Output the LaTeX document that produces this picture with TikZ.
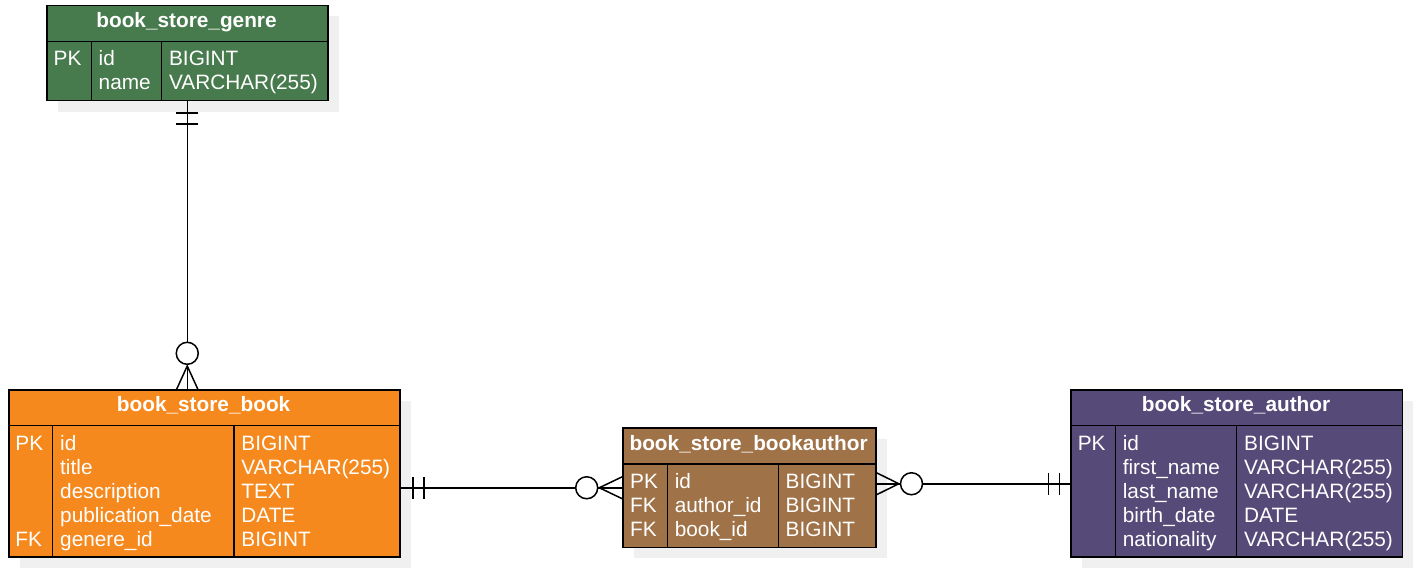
\documentclass[tikz,border=0pt]{standalone}
\usepackage{fontspec}
\setmainfont{Liberation Sans}
\usetikzlibrary{shadows,calc}
\definecolor{cgreen}{RGB}{71,122,77}
\definecolor{corange}{RGB}{246,137,30}
\definecolor{cbrown}{RGB}{160,114,72}
\definecolor{cpurple}{RGB}{86,74,120}
\definecolor{cshadow}{RGB}{240,240,240}
\tikzset{
  tbl/.style={draw=black, line width=1.5pt, anchor=north west, inner sep=0pt,
    drop shadow={shadow xshift=11pt, shadow yshift=-11pt, fill=cshadow, opacity=1}},
  ttl/.style={anchor=base, inner sep=0pt, text=white, font=\fontsize{20.8}{24}\selectfont\bfseries},
  cell/.style={anchor=base west, inner sep=0pt, text=white, font=\fontsize{20.8}{24}\selectfont},
  rule/.style={line width=1.5pt},
  conn/.style={line width=1.5pt, line cap=butt},
}
\begin{document}
\begin{tikzpicture}[x=1pt, y=-1pt]
\useasboundingbox (0,0) rectangle (1415,569);

% ---------- book_store_genre ----------
\node[tbl, fill=cgreen, minimum width=281pt, minimum height=95.3pt] (genre) at (46,4.7) {};
\draw[rule] (46,41.7) -- (327,41.7);
\draw[rule] (91.3,41.7) -- (91.3,100);
\draw[rule] (161.7,41.7) -- (161.7,100);
\node[ttl] (genre-title) at (186.5,27.4) {book\_store\_genre};
\foreach \k/\n/\t [count=\i] in {PK/id/BIGINT, {}/name/VARCHAR(255)}{
  \node[cell] (genre-k\i) at (53.5,{65.7+24*(\i-1)}) {\k};
  \node[cell] (genre-n\i) at (98.5,{65.7+24*(\i-1)}) {\n};
  \node[cell] (genre-t\i) at (168.9,{65.7+24*(\i-1)}) {\t};
}

% ---------- book_store_book ----------
\node[tbl, fill=corange, minimum width=391.3pt, minimum height=167pt] (book) at (8,389) {};
\draw[rule] (8,425.5) -- (399.3,425.5);
\draw[rule] (52.7,425.5) -- (52.7,556);
\draw[rule] (234,425.5) -- (234,556);
\node[ttl] (book-title) at (203.6,411.7) {book\_store\_book};
\foreach \k/\n/\t [count=\i] in {PK/id/BIGINT, {}/title/VARCHAR(255), {}/description/TEXT, {}/publication\_date/DATE, FK/genere\_id/BIGINT}{
  \node[cell] (book-k\i) at (15.3,{450+24*(\i-1)}) {\k};
  \node[cell] (book-n\i) at (60,{450+24*(\i-1)}) {\n};
  \node[cell] (book-t\i) at (241.2,{450+24*(\i-1)}) {\t};
}

% ---------- book_store_bookauthor ----------
\node[tbl, fill=cbrown, minimum width=252.7pt, minimum height=119.4pt] (ba) at (622.3,427.3) {};
\draw[rule] (622.3,464) -- (875,464);
\draw[rule] (667.3,464) -- (667.3,546.7);
\draw[rule] (778.3,464) -- (778.3,546.7);
\node[ttl] (ba-title) at (748.6,450) {book\_store\_bookauthor};
\foreach \k/\n/\t [count=\i] in {PK/id/BIGINT, FK/author\_id/BIGINT, FK/book\_id/BIGINT}{
  \node[cell] (ba-k\i) at (630,{488.3+24*(\i-1)}) {\k};
  \node[cell] (ba-n\i) at (674.6,{488.3+24*(\i-1)}) {\n};
  \node[cell] (ba-t\i) at (785.5,{488.3+24*(\i-1)}) {\t};
}

% ---------- book_store_author ----------
\node[tbl, fill=cpurple, minimum width=331.4pt, minimum height=167pt] (author) at (1070.3,389) {};
\draw[rule] (1070.3,425.7) -- (1401.7,425.7);
\draw[rule] (1115.3,425.7) -- (1115.3,556);
\draw[rule] (1236.7,425.7) -- (1236.7,556);
\node[ttl] (author-title) at (1236,411.7) {book\_store\_author};
\foreach \k/\n/\t [count=\i] in {PK/id/BIGINT, {}/first\_name/VARCHAR(255), {}/last\_name/VARCHAR(255), {}/birth\_date/DATE, {}/nationality/VARCHAR(255)}{
  \node[cell] (author-k\i) at (1077.6,{450+24*(\i-1)}) {\k};
  \node[cell] (author-n\i) at (1122.6,{450+24*(\i-1)}) {\n};
  \node[cell] (author-t\i) at (1244,{450+24*(\i-1)}) {\t};
}

% ---------- genre -> book (one to zero-or-many) ----------
\coordinate (gA) at (genre.south);
\coordinate (gB) at (genre.south |- book.north);
\draw[conn] (gA) -- (gB);
\draw[conn] ($(gA)+(-11,11.7)$) -- ++(22,0);
\draw[conn] ($(gA)+(-11,22.7)$) -- ++(22,0);
\draw[conn] ($(gB)+(-10.5,0)$) -- ($(gB)+(0,-23)$) -- ($(gB)+(10.5,0)$);
\draw[conn, fill=white] ($(gB)+(0,-35.7)$) circle[radius=11pt];

% ---------- book -> bookauthor ----------
\coordinate (bB) at (ba.west);
\coordinate (bA) at (bB -| book.east);
\draw[conn] (bA) -- (bB);
\draw[conn] ($(bA)+(12,-11)$) -- ++(0,22);
\draw[conn] ($(bA)+(23.3,-11)$) -- ++(0,22);
\draw[conn] ($(bB)+(0,-11)$) -- ($(bB)+(-23,0)$) -- ($(bB)+(0,11)$);
\draw[conn, fill=white] ($(bB)+(-35.6,0)$) circle[radius=11pt];

% ---------- bookauthor -> author ----------
\coordinate (aA) at ($(ba.east)+(0,-4)$);
\coordinate (aB) at (aA -| author.west);
\draw[conn] (aA) -- (aB);
\draw[conn] ($(aB)+(-21.7,-11)$) -- ++(0,22);
\draw[conn] ($(aB)+(-11,-11)$) -- ++(0,22);
\draw[conn] ($(aA)+(0,-11)$) -- ($(aA)+(22.3,0)$) -- ($(aA)+(0,11)$);
\draw[conn, fill=white] ($(aA)+(35,0)$) circle[radius=11pt];
\end{tikzpicture}
\end{document}
